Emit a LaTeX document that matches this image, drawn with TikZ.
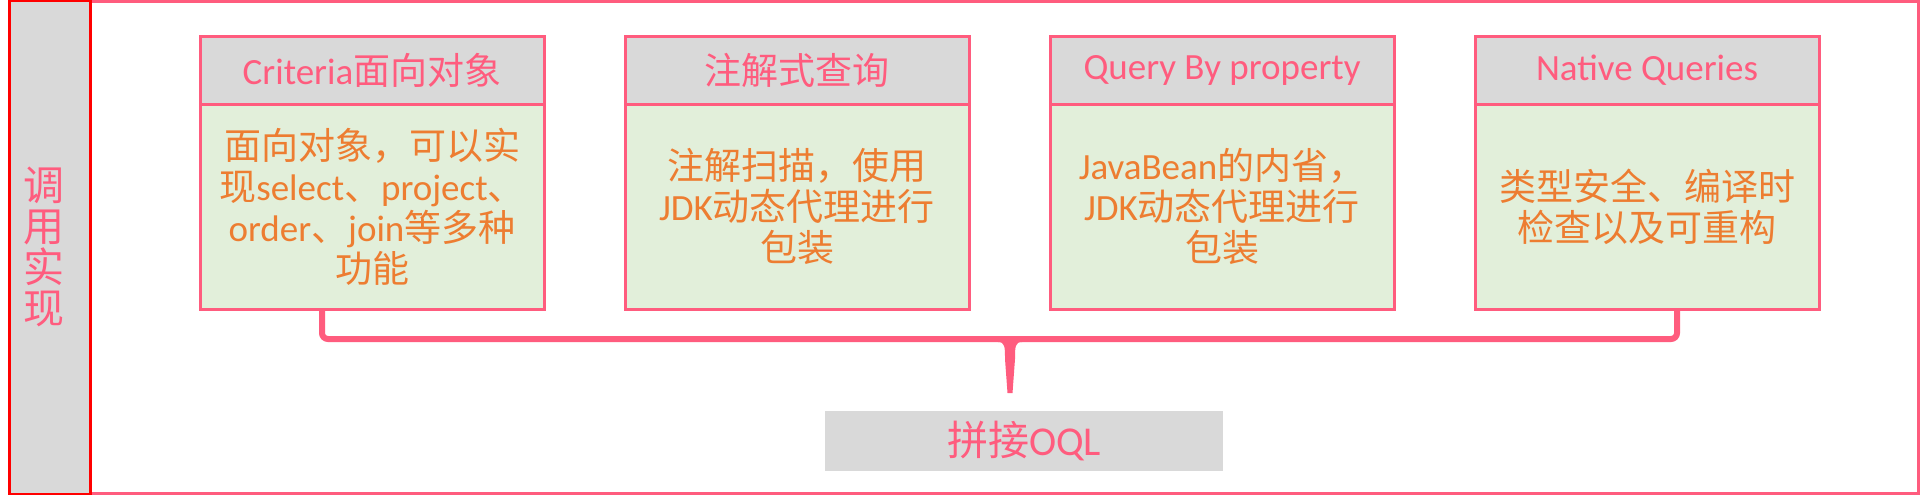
\documentclass[tikz,border=0pt]{standalone}
\usepackage{fontspec}
\setmainfont{Carlito}
\newfontfamily\cjk{Noto Sans CJK SC}
\newcommand{\zh}[1]{{\cjk #1}}
\usetikzlibrary{calc}
\definecolor{pk}{RGB}{255,92,126}
\definecolor{og}{RGB}{237,125,49}
\definecolor{gr}{RGB}{217,217,217}
\definecolor{lg}{RGB}{226,239,218}
\begin{document}
\begin{tikzpicture}[x=1pt,y=-1pt,
  hdr/.style={draw=pk,line width=3pt,fill=gr,minimum width=344pt,minimum height=67pt,inner sep=0pt,text=pk,font=\fontsize{37}{41}\selectfont},
  bdy/.style={draw=pk,line width=3pt,fill=lg,minimum width=344pt,minimum height=205pt,inner sep=0pt,text=og,align=center,font=\fontsize{37}{41}\selectfont},
  bracestyle/.style={draw=pk,line width=6pt,rounded corners=6pt}]
\useasboundingbox[fill=white] (0,0) rectangle (1920,495);
\node[draw=pk,line width=3pt,minimum width=1828pt,minimum height=492pt,inner sep=0pt] (frame) at (1004,247.5) {};
\node[draw=red,line width=3pt,fill=gr,minimum width=81pt,minimum height=493pt,inner sep=0pt] (side) at (49.5,247.5) {};
\node[text=pk,align=center,inner sep=0pt,font=\cjk\fontsize{41}{41}\selectfont] (sidetext) at (44,247) {调\\用\\实\\现};

\node[hdr] (h1) at (372,70.5) {Criteria\zh{面向对象}};
\node[bdy] (b1) at (372,206.5) {\zh{面向对象，可以实}\\\zh{现}select\zh{、}project\zh{、}\\order\zh{、}join\zh{等多种}\\\zh{功能}};

\node[hdr] (h2) at (797,70.5) {\zh{注解式查询}};
\node[bdy] (b2) at (797,206.5) {\zh{注解扫描，使用}\\JDK\zh{动态代理进行}\\\zh{包装}};

\node[hdr] (h3) at (1222,70.5) {Query By property};
\node[bdy] (b3) at (1222,206.5) {JavaBean\zh{的内省，}\\JDK\zh{动态代理进行}\\\zh{包装}};

\node[hdr] (h4) at (1647,70.5) {Native Queries};
\node[bdy] (b4) at (1647,206.5) {\zh{类型安全、编译时}\\\zh{检查以及可重构}};

\coordinate (tip) at (1010,339);
\draw[bracestyle] ([xshift=-50pt]b1.south) |- (tip) -| ([xshift=30pt]b4.south);
\fill[pk] ($(tip)+(-12,0)$) -- ($(tip)+(-12,3)$) .. controls ($(tip)+(-5,3)$) and ($(tip)+(-5,8)$) .. ($(tip)+(-5,20)$) -- ($(tip)+(-2.5,54)$) -- ($(tip)+(2.5,54)$) -- ($(tip)+(5,20)$) .. controls ($(tip)+(5,8)$) and ($(tip)+(5,3)$) .. ($(tip)+(12,3)$) -- ($(tip)+(12,0)$) -- cycle;

\node[fill=gr,minimum width=398pt,minimum height=60pt,inner sep=0pt,text=pk,font=\fontsize{41}{41}\selectfont] (oql) at (1024,441) {\zh{拼接}OQL};
\end{tikzpicture}
\end{document}
